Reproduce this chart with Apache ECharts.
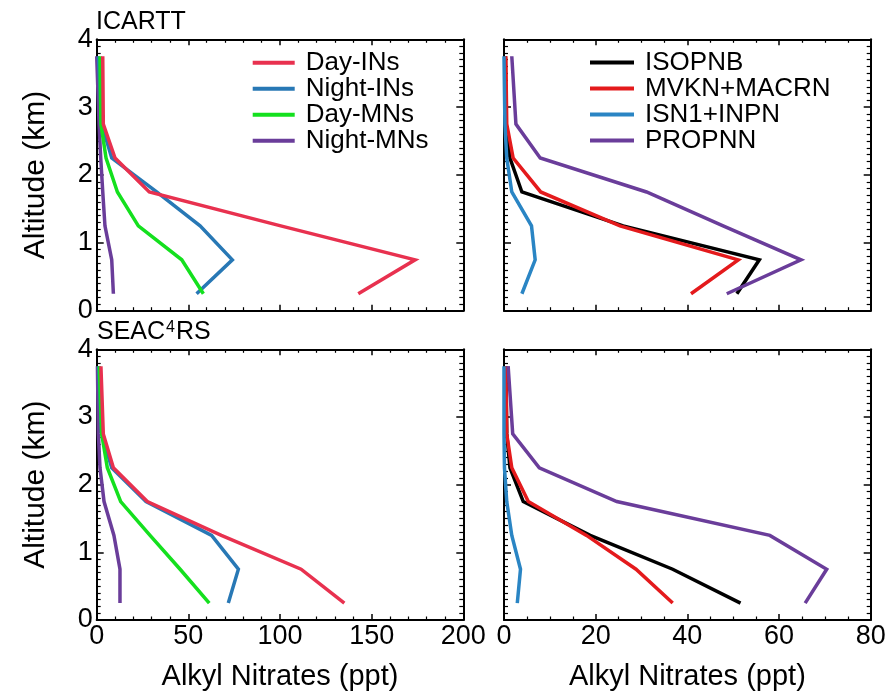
<!DOCTYPE html>
<html><head><meta charset="utf-8">
<script src="https://cdn.jsdelivr.net/npm/echarts@6/dist/echarts.min.js"></script>
<style>html,body{margin:0;padding:0;background:#fff}#c{width:891px;height:693px}</style>
</head><body><div id="c"></div><script>
// ---- data ----
const altitudes = [0.25, 0.75, 1.25, 1.75, 2.25, 2.75, 3.75];
const leftNames = ['Day-INs', 'Night-INs', 'Day-MNs', 'Night-MNs'];
const rightNames = ['ISOPNB', 'MVKN+MACRN', 'ISN1+INPN', 'PROPNN'];
// ICARTT
const icarttDayINs   = [142.7, 173.7, 100.4, 28.7, 10.0, 3.6, 3.3];
const icarttNightINs = [54.5, 74.0, 56.4, 32.7, 8.2, 2.7, 0.9];
const icarttDayMNs   = [58.2, 46.4, 22.7, 11.3, 5.1, 2.3, 1.8];
const icarttNightMNs = [9.1, 8.2, 4.5, 3.3, 2.2, 1.3, 0.0];
const icarttISOPNB   = [50.8, 55.7, 26.0, 3.9, 1.3, 0.4, 0.3];
const icarttMVKN     = [40.8, 51.1, 25.3, 8.0, 2.0, 0.6, 0.4];
const icarttISN1     = [3.9, 6.8, 6.0, 1.7, 0.6, 0.2, 0.0];
const icarttPROPNN   = [48.6, 64.8, 47.8, 31.1, 7.9, 2.6, 1.7];
// SEAC4RS
const seacDayINs   = [135.1, 111.5, 68.0, 27.6, 9.1, 3.6, 2.3];
const seacNightINs = [71.8, 77.3, 62.7, 26.9, 8.2, 2.7, 1.0];
const seacDayMNs   = [61.4, 45.5, 29.1, 13.1, 5.8, 2.7, 1.4];
const seacNightMNs = [12.7, 12.7, 9.4, 4.0, 1.8, 0.9, 0.4];
const seacISOPNB   = [51.6, 36.8, 18.8, 4.2, 1.3, 0.6, 0.4];
const seacMVKN     = [36.8, 28.8, 18.0, 5.3, 1.7, 0.6, 0.4];
const seacISN1     = [2.9, 3.6, 1.7, 0.6, 0.1, 0.0, 0.0];
const seacPROPNN   = [65.7, 70.4, 58.0, 24.6, 7.7, 1.9, 0.9];
// axis ticks
const leftXTicks = [0, 50, 100, 150, 200];
const rightXTicks = [0, 20, 40, 60, 80];
const yTicks = [0, 1, 2, 3, 4];

// ---- styling ----
const FONT = 'Liberation Sans, Arial, sans-serif';
const colors = {
  'Day-INs': '#E8314F', 'Night-INs': '#2878B5', 'Day-MNs': '#14E01E', 'Night-MNs': '#6A3D9A',
  'ISOPNB': '#000000', 'MVKN+MACRN': '#E41A1C', 'ISN1+INPN': '#2A85C4', 'PROPNN': '#6A3D9A'
};
const grids = [
  {left: 96.7, top: 39.3, width: 366.6, height: 271.4},
  {left: 504, top: 39.3, width: 366.7, height: 271.4},
  {left: 96.7, top: 349.3, width: 366.6, height: 270.7},
  {left: 504, top: 349.3, width: 366.7, height: 270.7}
].map(g => Object.assign(g, {containLabel: false, outerBoundsMode: 'none'}));

const lineStyleAxis = {show: true, onZero: false, lineStyle: {color: '#000', width: 2}};
function xAxis(gi, pos, ticks, minorSplit, showLabel, name) {
  const iv = ticks[1] - ticks[0];
  return {
    type: 'value', gridIndex: gi, position: pos, min: ticks[0], max: ticks[ticks.length - 1], interval: iv,
    axisLine: lineStyleAxis,
    axisTick: {show: true, inside: true, length: 6, lineStyle: {color: '#000', width: 1.5}},
    minorTick: {show: true, splitNumber: minorSplit, length: 3.5, lineStyle: {color: '#000', width: 1.2}},
    splitLine: {show: false}, minorSplitLine: {show: false},
    axisLabel: {show: showLabel, fontSize: 27, color: '#000', fontFamily: FONT, margin: 3, hideOverlap: false},
    name: name || '', nameLocation: 'middle', nameGap: 42,
    nameTextStyle: {fontSize: 29, color: '#000', fontFamily: FONT}
  };
}
function yAxis(gi, pos, showLabel, name) {
  return {
    type: 'value', gridIndex: gi, position: pos, min: yTicks[0], max: yTicks[yTicks.length - 1], interval: 1,
    axisLine: lineStyleAxis,
    axisTick: {show: true, inside: true, length: 7, lineStyle: {color: '#000', width: 1.5}},
    minorTick: {show: true, splitNumber: 10, length: 4, lineStyle: {color: '#000', width: 1.2}},
    splitLine: {show: false}, minorSplitLine: {show: false},
    axisLabel: {show: showLabel, fontSize: 27, color: '#000', fontFamily: FONT, margin: 4, hideOverlap: false},
    name: name || '', nameLocation: 'middle', nameGap: 46,
    nameTextStyle: {fontSize: 30, color: '#000', fontFamily: FONT}
  };
}
const xAxes = [], yAxes = [];
for (let gi = 0; gi < 4; gi++) {
  const isLeft = gi % 2 === 0, isBottom = gi >= 2;
  const ticks = isLeft ? leftXTicks : rightXTicks;
  const ms = isLeft ? 5 : 4;
  xAxes.push(xAxis(gi, 'bottom', ticks, ms, isBottom, isBottom ? 'Alkyl Nitrates (ppt)' : ''));
  xAxes.push(xAxis(gi, 'top', ticks, ms, false, ''));
  yAxes.push(yAxis(gi, 'left', isLeft, isLeft ? 'Altitude (km)' : ''));
  yAxes.push(yAxis(gi, 'right', false, ''));
}

function mk(name, values, gi, z) {
  return {
    name, type: 'line', xAxisIndex: gi * 2, yAxisIndex: gi * 2, z: z,
    data: values.map((v, i) => [v, altitudes[i]]),
    showSymbol: false, symbol: 'none', animation: false, clip: false,
    lineStyle: {color: colors[name], width: 3.5, join: 'miter'},
    itemStyle: {color: colors[name]}
  };
}
const series = [
  mk('Night-MNs', icarttNightMNs, 0, 2), mk('Night-INs', icarttNightINs, 0, 3),
  mk('Day-MNs', icarttDayMNs, 0, 4), mk('Day-INs', icarttDayINs, 0, 5),
  mk('ISOPNB', icarttISOPNB, 1, 2), mk('MVKN+MACRN', icarttMVKN, 1, 3),
  mk('ISN1+INPN', icarttISN1, 1, 4), mk('PROPNN', icarttPROPNN, 1, 5),
  mk('Night-MNs', seacNightMNs, 2, 2), mk('Night-INs', seacNightINs, 2, 3),
  mk('Day-MNs', seacDayMNs, 2, 4), mk('Day-INs', seacDayINs, 2, 5),
  mk('ISOPNB', seacISOPNB, 3, 2), mk('MVKN+MACRN', seacMVKN, 3, 3),
  mk('ISN1+INPN', seacISN1, 3, 4), mk('PROPNN', seacPROPNN, 3, 5)
];

function legend(names, left, top, lh, iw) {
  return {
    data: names, orient: 'vertical', left, top, icon: 'rect', itemWidth: iw, itemHeight: 4, itemGap: 0,
    selectedMode: false, padding: 0,
    textStyle: {fontSize: 26, color: '#000', fontFamily: FONT, lineHeight: lh, padding: [0, 0, 0, 6]}
  };
}

const chart = echarts.init(document.getElementById('c'), null, {renderer: 'canvas'});
chart.setOption({
  backgroundColor: '#fff',
  animation: false,
  title: [
    {text: 'ICARTT', left: 96, top: 10, padding: 0,
     textStyle: {fontSize: 25, fontWeight: 'normal', color: '#000', fontFamily: FONT}},
    {text: '{a|SEAC}{s|4}{a|RS}', left: 97, top: 318, padding: 0,
     textStyle: {fontSize: 25, fontWeight: 'normal', color: '#000', fontFamily: FONT,
       rich: {a: {fontSize: 25, color: '#000', fontFamily: FONT, lineHeight: 28},
              s: {fontSize: 16, color: '#000', fontFamily: FONT, lineHeight: 16, verticalAlign: 'top', padding: [2, 1, 0, 1]}}}}
  ],
  legend: [legend(leftNames, 252.7, 49.7, 24.2, 42), legend(rightNames, 590, 49.4, 22.6, 44)],
  grid: grids,
  xAxis: xAxes,
  yAxis: yAxes,
  series
});
</script></body></html>
